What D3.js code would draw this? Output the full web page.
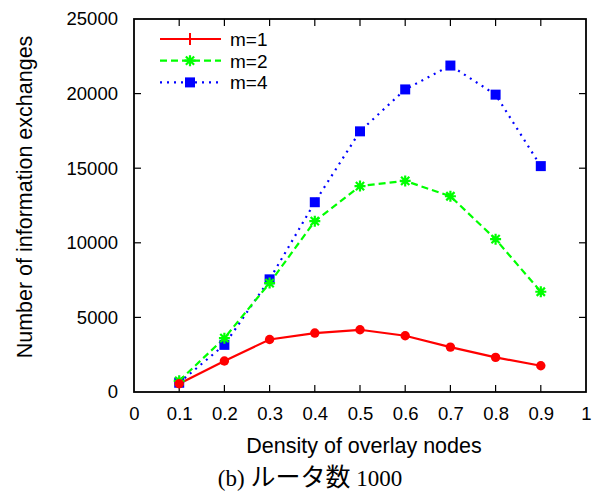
<!DOCTYPE html>
<html>
<head>
<meta charset="utf-8">
<script src="https://cdn.jsdelivr.net/npm/d3@7"></script>
<style>
  html, body { margin: 0; padding: 0; background: #fff; }
</style>
</head>
<body>
<svg id="chart" width="598" height="492"></svg>
<script>
// Density of overlay nodes
const densities = [0.1, 0.2, 0.3, 0.4, 0.5, 0.6, 0.7, 0.8, 0.9];
// Number of information exchanges per series
const m1 = [550, 2080, 3520, 3950, 4170, 3770, 3010, 2320, 1760];
const m2 = [750, 3610, 7300, 11450, 13800, 14150, 13120, 10240, 6720];
const m4 = [620, 3160, 7550, 12720, 17470, 20280, 21880, 19930, 15140];
const seriesNames = ["m=1", "m=2", "m=4"];
const xTicks = [0, 0.1, 0.2, 0.3, 0.4, 0.5, 0.6, 0.7, 0.8, 0.9, 1];
const yTicks = [0, 5000, 10000, 15000, 20000, 25000];

const svg = d3.select("#chart");
const margin = { left: 134, right: 12, top: 19, bottom: 100 };
const W = 598, H = 492;
const x = d3.scaleLinear().domain([0, 1]).range([margin.left, W - margin.right]);
const y = d3.scaleLinear().domain([0, 25000]).range([H - margin.bottom, margin.top]);

const tickLen = 7;
const tickFont = 18.5;
const titleFont = 21.5;
const sansFamily = "'Liberation Sans', Arial, sans-serif";
const serifFamily = "'Liberation Serif', 'Times New Roman', serif";
const cjkFamily = "'Noto Sans CJK JP', sans-serif";

// axes with inward ticks, labels on bottom and left
const xAxis = d3.axisBottom(x).tickValues(xTicks).tickSize(0).tickPadding(15)
  .tickFormat(d => d === 0 || d === 1 ? d3.format("d")(d) : d3.format(".1f")(d));
svg.append("g").attr("transform", `translate(0,${y(0)})`).call(xAxis)
  .call(g => g.select(".domain").remove())
  .selectAll("text").attr("fill", "#000")
  .style("font-size", tickFont + "px").style("font-family", sansFamily);

const yAxis = d3.axisLeft(y).tickValues(yTicks).tickSize(0).tickPadding(16)
  .tickFormat(d3.format("d"));
svg.append("g").attr("transform", `translate(${x(0)},0)`).call(yAxis)
  .call(g => g.select(".domain").remove())
  .selectAll("text").attr("fill", "#000")
  .style("font-size", tickFont + "px").style("font-family", sansFamily);

// inner tick marks on all four sides
const ticksG = svg.append("g").attr("stroke", "#000").attr("stroke-width", 1.2);
xTicks.slice(1, -1).forEach(t => {
  ticksG.append("line").attr("x1", x(t)).attr("x2", x(t)).attr("y1", y(0)).attr("y2", y(0) - tickLen);
  ticksG.append("line").attr("x1", x(t)).attr("x2", x(t)).attr("y1", y(25000)).attr("y2", y(25000) + tickLen);
});
yTicks.slice(1, -1).forEach(t => {
  ticksG.append("line").attr("x1", x(0)).attr("x2", x(0) + tickLen).attr("y1", y(t)).attr("y2", y(t));
  ticksG.append("line").attr("x1", x(1)).attr("x2", x(1) - tickLen).attr("y1", y(t)).attr("y2", y(t));
});

// frame
svg.append("rect")
  .attr("x", x(0)).attr("y", y(25000))
  .attr("width", x(1) - x(0)).attr("height", y(0) - y(25000))
  .attr("fill", "none").attr("stroke", "#000").attr("stroke-width", 1.8);

// axis titles
svg.append("text").attr("x", 364).attr("y", 453)
  .attr("text-anchor", "middle")
  .style("font-size", titleFont + "px").style("font-family", sansFamily)
  .text("Density of overlay nodes");
svg.append("text").attr("transform", `translate(31.5,197) rotate(-90)`)
  .attr("text-anchor", "middle")
  .style("font-size", titleFont + "px").style("font-family", sansFamily)
  .text("Number of information exchanges");

// caption
const cap = svg.append("text").attr("x", 310).attr("y", 486).attr("text-anchor", "middle")
  .style("font-size", "23px").style("font-family", serifFamily);
cap.append("tspan").text("(b) ");
cap.append("tspan").style("font-family", cjkFamily).style("font-size", "25px").text("ルータ数");
cap.append("tspan").text(" 1000");

const line = d3.line().x((d, i) => x(densities[i])).y(d => y(d));

const asterisk = s => `M${-s},0L${s},0M0,${-s}L0,${s}M${-s * 0.75},${-s * 0.75}L${s * 0.75},${s * 0.75}M${-s * 0.75},${s * 0.75}L${s * 0.75},${-s * 0.75}`;

// m=4 (blue, dotted, squares)
svg.append("path").datum(m4).attr("d", line).attr("fill", "none")
  .attr("stroke", "#0000ff").attr("stroke-width", 2.2).attr("stroke-dasharray", "2,5");
// m=2 (green, dashed, asterisks)
svg.append("path").datum(m2).attr("d", line).attr("fill", "none")
  .attr("stroke", "#00ff00").attr("stroke-width", 2.2).attr("stroke-dasharray", "7,4");
// m=1 (red, solid, circles)
svg.append("path").datum(m1).attr("d", line).attr("fill", "none")
  .attr("stroke", "#ff0000").attr("stroke-width", 2.2);

svg.append("g").selectAll("rect").data(m4).join("rect")
  .attr("x", (d, i) => x(densities[i]) - 5).attr("y", d => y(d) - 5)
  .attr("width", 10).attr("height", 10).attr("fill", "#0000ff");
svg.append("g").selectAll("path").data(m2).join("path")
  .attr("transform", (d, i) => `translate(${x(densities[i])},${y(d)})`)
  .attr("d", asterisk(5.5)).attr("stroke", "#00ff00").attr("stroke-width", 2.2).attr("fill", "none");
svg.append("g").selectAll("circle").data(m1).join("circle")
  .attr("cx", (d, i) => x(densities[i])).attr("cy", d => y(d)).attr("r", 4.7)
  .attr("fill", "#ff0000");

// legend
const legend = svg.append("g");
const legendRows = [
  { name: seriesNames[0], color: "#ff0000", dash: null, mark: "plus" },
  { name: seriesNames[1], color: "#00ff00", dash: "7,4", mark: "star" },
  { name: seriesNames[2], color: "#0000ff", dash: "2,5", mark: "square" }
];
legendRows.forEach((r, i) => {
  const yy = 39 + i * 21.7;
  legend.append("line").attr("x1", 160).attr("x2", 221).attr("y1", yy).attr("y2", yy)
    .attr("stroke", r.color).attr("stroke-width", 2.2).attr("stroke-dasharray", r.dash);
  if (r.mark === "plus") {
    legend.append("path").attr("transform", `translate(190,${yy})`)
      .attr("d", "M-6,0L6,0M0,-6L0,6").attr("stroke", r.color).attr("stroke-width", 2);
  } else if (r.mark === "star") {
    legend.append("path").attr("transform", `translate(190,${yy})`)
      .attr("d", asterisk(5.5)).attr("stroke", r.color).attr("stroke-width", 2.2).attr("fill", "none");
  } else {
    legend.append("rect").attr("x", 185).attr("y", yy - 5).attr("width", 10).attr("height", 10)
      .attr("fill", r.color);
  }
  legend.append("text").attr("x", 230).attr("y", yy).attr("dy", "0.36em")
    .style("font-size", "19px").style("font-family", sansFamily).text(r.name);
});
</script>
</body>
</html>
